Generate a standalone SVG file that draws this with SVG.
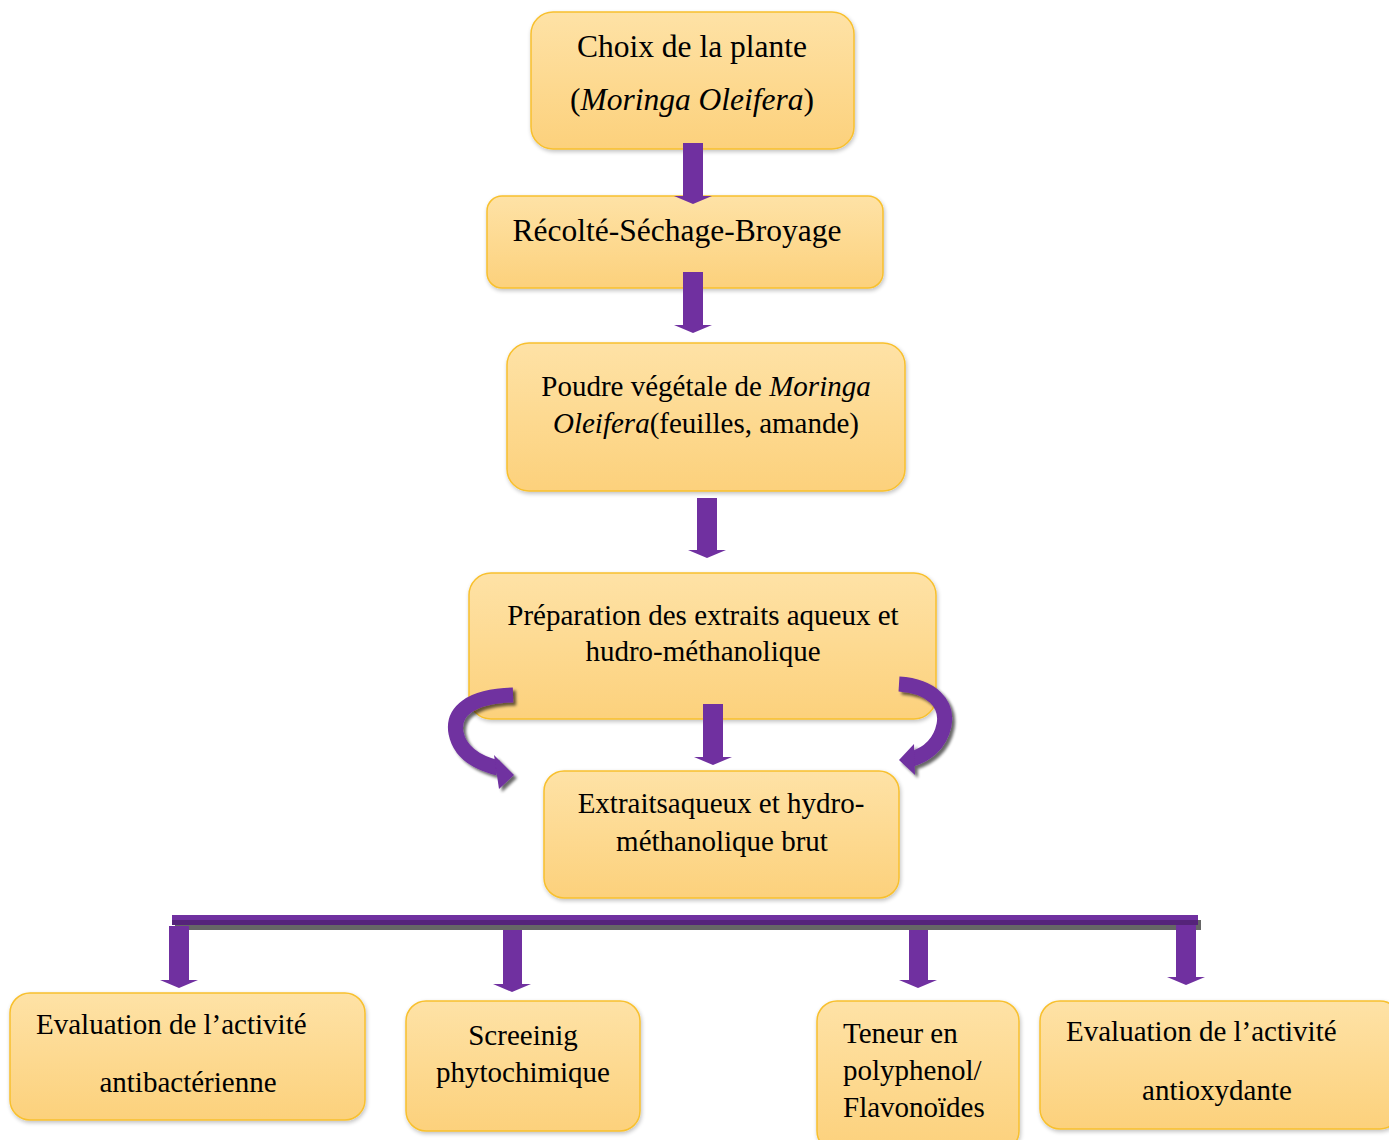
<svg xmlns="http://www.w3.org/2000/svg" width="1389" height="1140" viewBox="0 0 1389 1140">
  <defs>
    <linearGradient id="boxFill" x1="0" y1="0" x2="0" y2="1">
      <stop offset="0" stop-color="#fee2a6"/>
      <stop offset="1" stop-color="#fcd17c"/>
    </linearGradient>
    <filter id="glow" x="-5%" y="-5%" width="110%" height="115%">
      <feGaussianBlur in="SourceAlpha" stdDeviation="2"/>
      <feOffset dx="1" dy="2"/>
      <feComponentTransfer><feFuncA type="linear" slope="0.25"/></feComponentTransfer>
      <feMerge><feMergeNode/><feMergeNode in="SourceGraphic"/></feMerge>
    </filter>
    <filter id="shade" x="-20%" y="-20%" width="140%" height="140%">
      <feGaussianBlur in="SourceAlpha" stdDeviation="1.5"/>
      <feOffset dx="3" dy="3"/>
      <feComponentTransfer><feFuncA type="linear" slope="0.6"/></feComponentTransfer>
      <feMerge><feMergeNode/><feMergeNode in="SourceGraphic"/></feMerge>
    </filter>
  </defs>
  <style>
    .box { fill: url(#boxFill); stroke: #f8c02e; stroke-width: 1.5; filter: url(#glow); }
    .t { font-family: "Liberation Serif", "Times New Roman", serif; font-size: 29px; fill: #000; }
    .big { font-size: 31.5px; }
    .c { text-anchor: middle; }
    .arrow { fill: #7030a0; }
    .curve { fill: none; stroke: #7030a0; stroke-width: 15; }
  </style>

  <rect width="1389" height="1140" fill="#ffffff"/>

  <!-- nodes -->
  <g id="n-choix">
    <rect class="box" x="531" y="12" width="323" height="137" rx="22"/>
    <text class="t big c" x="692" y="57">Choix de la plante</text>
    <text class="t big c" x="692" y="110">(<tspan font-style="italic">Moringa Oleifera</tspan>)</text>
  </g>

  <g id="n-recolte">
    <rect class="box" x="487" y="196" width="396" height="92" rx="15"/>
    <text class="t big c" x="677" y="241">Récolté-Séchage-Broyage</text>
  </g>

  <g id="n-poudre">
    <rect class="box" x="507" y="343" width="398" height="148" rx="22"/>
    <text class="t c" x="706" y="396">Poudre végétale de <tspan font-style="italic">Moringa</tspan></text>
    <text class="t c" x="706" y="433"><tspan font-style="italic">Oleifera</tspan>(feuilles, amande)</text>
  </g>

  <g id="n-preparation">
    <rect class="box" x="469" y="573" width="467" height="146" rx="22"/>
    <text class="t c" x="703" y="625">Préparation des extraits aqueux et</text>
    <text class="t c" x="703" y="661">hudro-méthanolique</text>
  </g>

  <g id="n-extraits">
    <rect class="box" x="544" y="771" width="355" height="127" rx="20"/>
    <text class="t c" x="721" y="813">Extraitsaqueux et hydro-</text>
    <text class="t c" x="722" y="851">méthanolique brut</text>
  </g>

  <g id="n-antibacterienne">
    <rect class="box" x="10" y="993" width="355" height="127" rx="20"/>
    <text class="t" x="36" y="1034">Evaluation de l’activité</text>
    <text class="t c" x="188" y="1092">antibactérienne</text>
  </g>

  <g id="n-screening">
    <rect class="box" x="406" y="1001" width="234" height="130" rx="20"/>
    <text class="t c" x="523" y="1045">Screeinig</text>
    <text class="t c" x="523" y="1082">phytochimique</text>
  </g>

  <g id="n-teneur">
    <rect class="box" x="817" y="1001" width="202" height="150" rx="20"/>
    <text class="t" x="843" y="1043">Teneur en</text>
    <text class="t" x="843" y="1080">polyphenol/</text>
    <text class="t" x="843" y="1117">Flavonoïdes</text>
  </g>

  <g id="n-antioxydante">
    <rect class="box" x="1040" y="1001" width="360" height="128" rx="20"/>
    <text class="t" x="1066" y="1041">Evaluation de l’activité</text>
    <text class="t c" x="1217" y="1100">antioxydante</text>
  </g>

  <!-- connectors, drawn over the boxes -->
  <g id="connectors">
    <!-- straight down arrows -->
    <polygon class="arrow" points="683,143 703,143 703,196 712,196 693,204 674,196 683,196"/>
    <polygon class="arrow" points="683,272 703,272 703,325 712,325 693,333 674,325 683,325"/>
    <polygon class="arrow" points="697,498 717,498 717,550 726,550 707,558 688,550 697,550"/>
    <polygon class="arrow" points="703,704 723,704 723,757 732,757 713,765 694,757 703,757"/>

    <!-- curved side arrows -->
    <g filter="url(#shade)">
      <path class="curve" d="M513,695 C470,696 452,712 456,733 C460,753 478,763 498,768"/>
      <polygon class="arrow" points="494,755 514,775 499,789"/>
      <path class="curve" d="M899,684 C932,686 948,704 944,725 C940,745 925,755 912,759"/>
      <polygon class="arrow" points="914,744 899,760 915,775"/>
    </g>

    <!-- distribution bar -->
    <rect x="175" y="920" width="1026" height="10" fill="#666666"/>
    <rect x="172" y="915" width="1026" height="10" fill="#7030a0"/>
    <rect x="172" y="920" width="1026" height="5" fill="#55237a"/>

    <!-- branch arrows -->
    <polygon class="arrow" points="169,926 189,926 189,980 198,980 179,988 160,980 169,980"/>
    <polygon class="arrow" points="503,930 522,930 522,984 531,984 512,992 493,984 503,984"/>
    <polygon class="arrow" points="909,930 928,930 928,980 937,980 918,988 899,980 909,980"/>
    <polygon class="arrow" points="1176,925 1196,925 1196,977 1205,977 1186,985 1167,977 1176,977"/>
  </g>
</svg>
